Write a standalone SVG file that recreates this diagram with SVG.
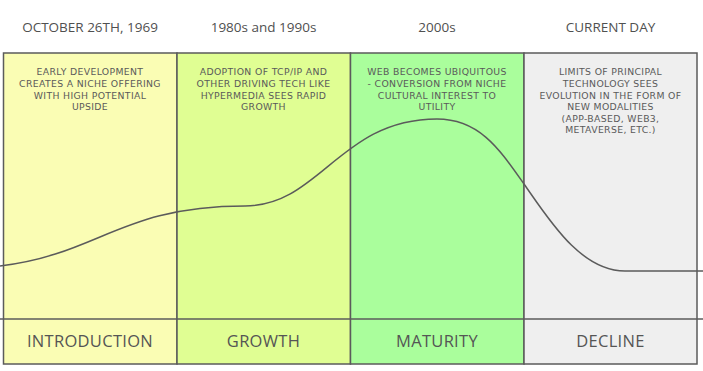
<svg xmlns="http://www.w3.org/2000/svg" width="703" height="371" viewBox="0 0 703 371">
<style>
.col{stroke:#5b5b5b;stroke-width:1.5}
.hdr{font-family:"Open Sans","DejaVu Sans",sans-serif;font-size:13.5px;fill:#505050;text-anchor:middle}
.desc{font-family:"DejaVu Sans","Open Sans",sans-serif;font-size:9.3px;letter-spacing:0.35px;fill:#5a5a5a;text-anchor:middle}
.lbl{font-family:"Open Sans","DejaVu Sans",sans-serif;font-size:16.5px;letter-spacing:0.3px;fill:#555;text-anchor:middle}
.line{fill:none;stroke:#5b5b5b;stroke-width:1.5}
</style>
<rect width="703" height="371" fill="#ffffff"/>
<g id="introduction">
<rect class="col" x="3.5" y="53" width="173.5" height="311" fill="#fafdb4"/>
<text class="hdr" x="90" y="32">OCTOBER 26TH, 1969</text>
<text class="desc" x="90" y="75">EARLY DEVELOPMENT</text>
<text class="desc" x="90" y="86.5">CREATES A NICHE OFFERING</text>
<text class="desc" x="90" y="98.5">WITH HIGH POTENTIAL</text>
<text class="desc" x="90" y="110">UPSIDE</text>
<text class="lbl" x="90" y="347">INTRODUCTION</text>
</g>
<g id="growth">
<rect class="col" x="177" y="53" width="173.5" height="311" fill="#e0fe93"/>
<text class="hdr" x="263.5" y="32">1980s and 1990s</text>
<text class="desc" x="263.5" y="75">ADOPTION OF TCP/IP AND</text>
<text class="desc" x="263.5" y="86.5">OTHER DRIVING TECH LIKE</text>
<text class="desc" x="263.5" y="98.5">HYPERMEDIA SEES RAPID</text>
<text class="desc" x="263.5" y="110">GROWTH</text>
<text class="lbl" x="263.5" y="347">GROWTH</text>
</g>
<g id="maturity">
<rect class="col" x="350.5" y="53" width="173.5" height="311" fill="#aafe9c"/>
<text class="hdr" x="437" y="32">2000s</text>
<text class="desc" x="437" y="75">WEB BECOMES UBIQUITOUS</text>
<text class="desc" x="437" y="86.5">- CONVERSION FROM NICHE</text>
<text class="desc" x="437" y="98.5">CULTURAL INTEREST TO</text>
<text class="desc" x="437" y="110">UTILITY</text>
<text class="lbl" x="437" y="347">MATURITY</text>
</g>
<g id="decline">
<rect class="col" x="524" y="53" width="173" height="311" fill="#efefef"/>
<text class="hdr" x="610.5" y="32">CURRENT DAY</text>
<text class="desc" x="610.5" y="75">LIMITS OF PRINCIPAL</text>
<text class="desc" x="610.5" y="86.5">TECHNOLOGY SEES</text>
<text class="desc" x="610.5" y="98.5">EVOLUTION IN THE FORM OF</text>
<text class="desc" x="610.5" y="110">NEW MODALITIES</text>
<text class="desc" x="610.5" y="121.5">(APP-BASED, WEB3,</text>
<text class="desc" x="610.5" y="133">METAVERSE, ETC.)</text>
<text class="lbl" x="610.5" y="347">DECLINE</text>
</g>
<g id="connectors">
<line class="line" x1="0" y1="319" x2="703" y2="319"/>
<path class="line" d="M0,266 C100,254 120,206 245,206 C320,206 340,119 437,119 C480,119 500,150 524,184 C548,218 580,271 625,271 L703,271"/>
</g>
</svg>
